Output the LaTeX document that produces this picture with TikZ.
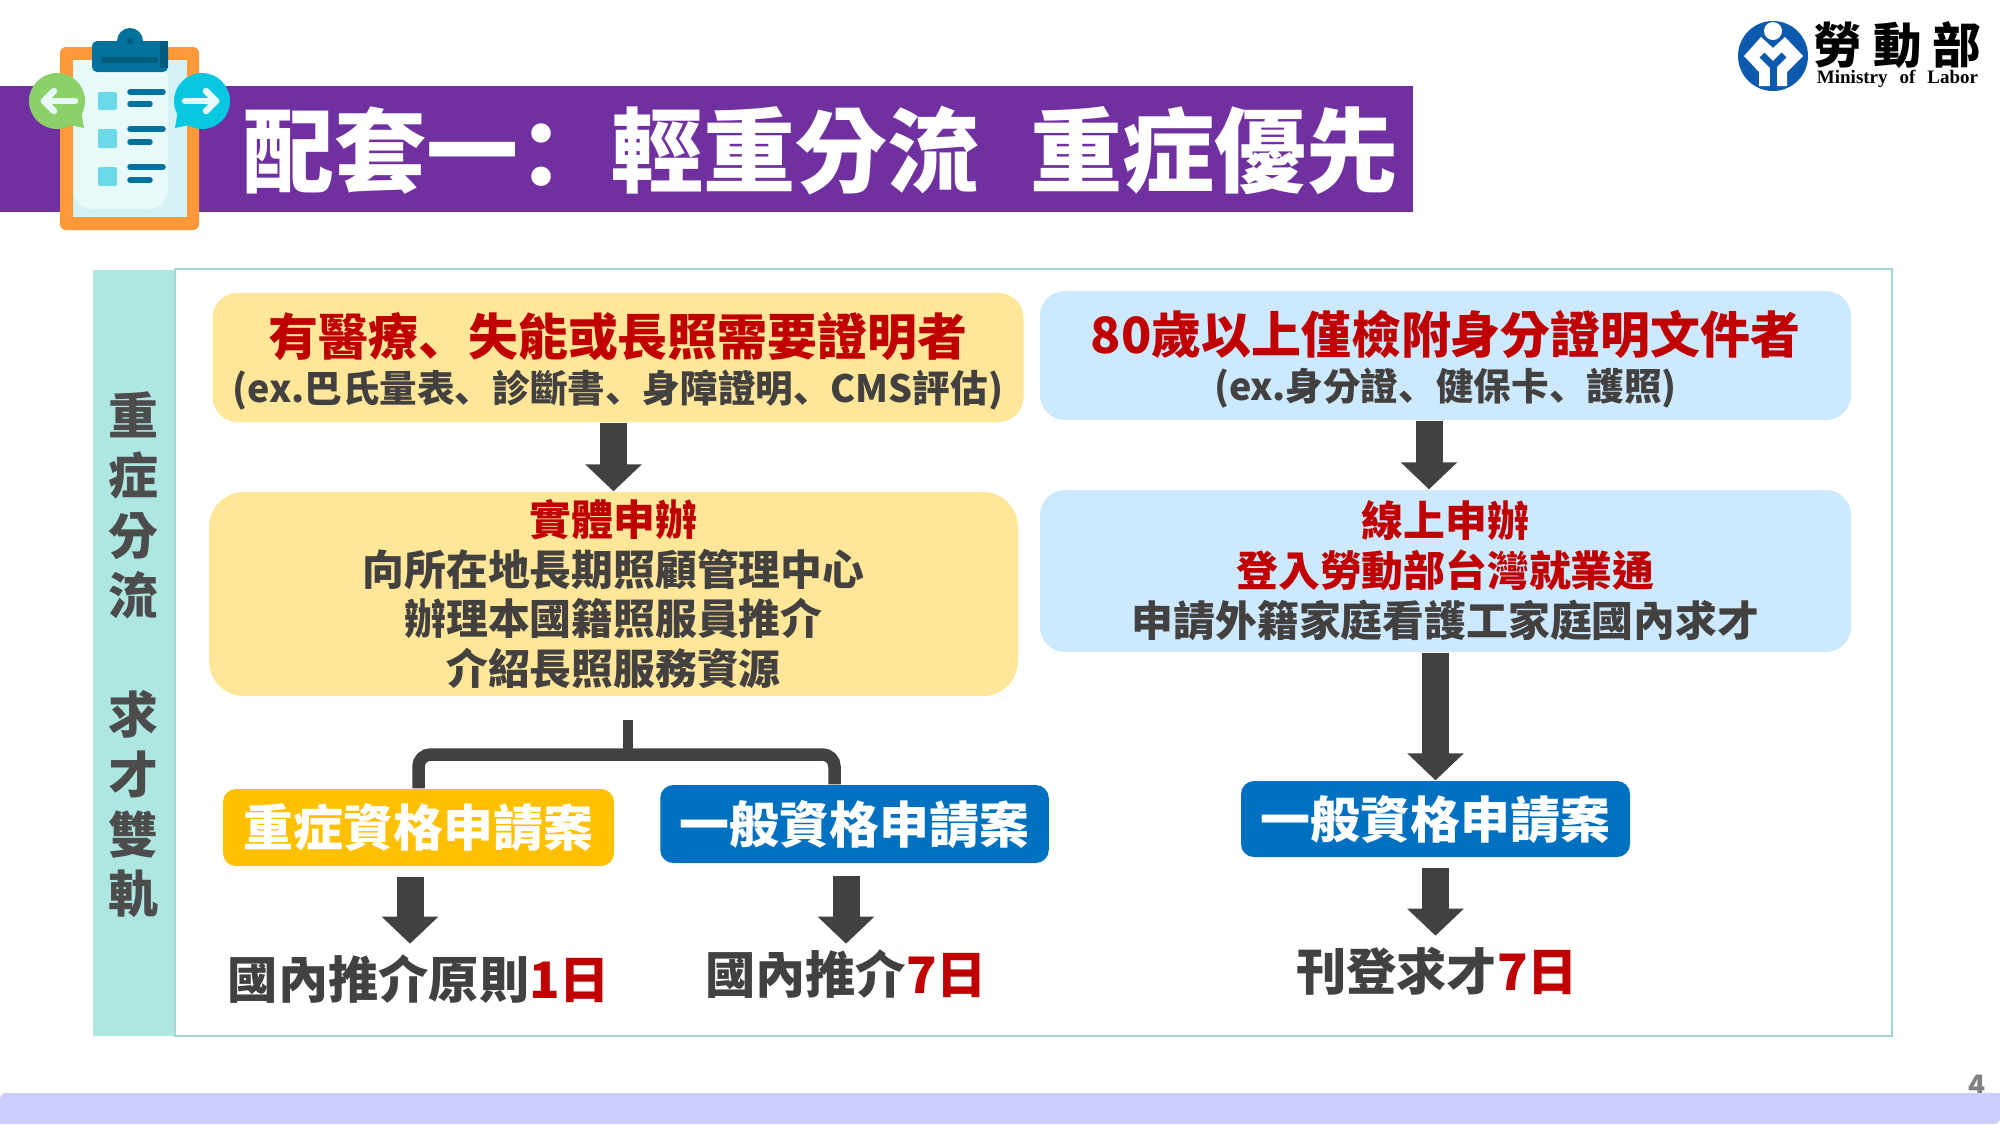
\documentclass[tikz,border=0pt]{standalone}
\usepackage{fontspec}
\usepackage{xcolor}
\usepackage{tikz}
\usetikzlibrary{positioning, arrows.meta}
\setmainfont{Noto Sans CJK TC}
\newfontfamily\logoserif{Liberation Serif}
\newfontfamily\punctfont{Noto Sans CJK SC}
\definecolor{banner}{HTML}{7030A0}
\definecolor{sideband}{HTML}{AEE6E2}
\definecolor{panelline}{HTML}{A5D5D5}
\definecolor{softyellow}{HTML}{FFE699}
\definecolor{softblue}{HTML}{CCE9FF}
\definecolor{gold}{HTML}{FFC000}
\definecolor{deepblue}{HTML}{0070C0}
\definecolor{alert}{HTML}{C00000}
\definecolor{inkgray}{HTML}{434040}
\definecolor{clipblue}{HTML}{01729B}
\definecolor{cliporange}{HTML}{FF9838}
\definecolor{papershade}{HTML}{D4F1F4}
\definecolor{paperlight}{HTML}{E8F9FA}
\definecolor{squarecyan}{HTML}{6BD9E8}
\definecolor{bubblegreen}{HTML}{8BD169}
\definecolor{bubblecyan}{HTML}{08C8E0}
\definecolor{footerbar}{HTML}{CCCCFF}
\definecolor{logoblue}{HTML}{0B5AAE}
\newcommand{\alerttxt}[1]{\textcolor{alert}{#1}}
\newcommand{\dun}{{\punctfont 、}}
\tikzset{
  softbox/.style={rounded corners=2.5mm, inner sep=0pt, align=center, text=inkgray, font=\bfseries\fontsize{11.9}{14.2}\selectfont},
  headbox/.style={softbox, font=\bfseries\fontsize{10.7}{15}\selectfont},
  casebox/.style={rounded corners=1.3mm, inner sep=0pt, text=white, font=\bfseries\fontsize{14.2}{17}\selectfont},
  daytext/.style={inner sep=0pt, text=inkgray, font=\bfseries\fontsize{14.3}{17}\selectfont},
  fatarrow/.style={draw=inkgray, line width=2.7mm, -{Triangle[length=2.7mm, width=5.5mm]}},
  bracketline/.style={draw=inkgray, line width=1.25mm, rounded corners=1.2mm},
  listline/.style={draw=clipblue, line width=0.55mm, line cap=round},
  bubblearrow/.style={draw=paperlight, line width=0.65mm, line cap=round, line join=round},
  listsquare/.style={fill=squarecyan, rounded corners=0.2mm}
}
\begin{document}
\begin{tikzpicture}
  \useasboundingbox (0,0) rectangle (20,-11.25);

  % footer and page number
  \node[inner sep=0pt, text=gray, font=\bfseries\fontsize{8}{9}\selectfont] (pagenum) at (19.77,-10.85) {4};
  \fill[footerbar] (0,-11.24) [rounded corners=0.6mm] -- (0,-10.93) [sharp corners] -- (20,-10.93) [rounded corners=0.6mm] -- (20,-11.24) [sharp corners] -- cycle;

  % title banner
  \fill[banner] (0,-0.86) rectangle (14.13,-2.12);
  \node[anchor=west, inner sep=0pt, text=white, font=\bfseries\fontsize{26.2}{30}\selectfont] (title) at (2.42,-1.5) {配套一{\punctfont ：}輕重分流\hspace{5.1mm}重症優先};

  % clipboard
  \fill[cliporange, rounded corners=0.6mm] (0.60,-0.47) rectangle (1.99,-2.30);
  \fill[papershade] (0.73,-0.60) rectangle (1.87,-2.17);
  \fill[paperlight, rounded corners=2mm] (0.73,-0.60) -- (1.68,-0.60) -- (1.68,-2.09) -- (0.73,-2.09) [sharp corners] -- cycle;
  \fill[clipblue] (1.30,-0.41) circle (0.13);
  \fill[clipblue, rounded corners=0.5mm] (0.92,-0.41) rectangle (1.68,-0.72);
  \fill[clipblue!80!black] (1.60,-0.41) rectangle (1.68,-0.68);
  \fill[clipblue!80!black] (1.30,-0.41) circle (0.03);
  \draw[clipblue!80!black, line width=0.55mm, line cap=round] (1.04,-0.60) -- (1.56,-0.60);
  \fill[listsquare] (0.98,-0.92) rectangle (1.17,-1.10);
  \fill[listsquare] (0.98,-1.29) rectangle (1.17,-1.48);
  \fill[listsquare] (0.98,-1.67) rectangle (1.17,-1.86);
  \draw[listline] (1.30,-0.92) -- (1.63,-0.92);
  \draw[listline] (1.30,-1.04) -- (1.50,-1.04);
  \draw[listline] (1.30,-1.29) -- (1.63,-1.29);
  \draw[listline] (1.30,-1.42) -- (1.50,-1.42);
  \draw[listline] (1.30,-1.67) -- (1.63,-1.67);
  \draw[listline] (1.30,-1.80) -- (1.50,-1.80);

  % speech bubbles
  \fill[bubblegreen] (0.57,-1.01) circle (0.28);
  \fill[bubblegreen] (0.70,-1.25) -- (0.84,-1.28) -- (0.81,-1.10) -- cycle;
  \draw[bubblearrow] (0.75,-1.01) -- (0.44,-1.01);
  \draw[bubblearrow] (0.54,-0.91) -- (0.44,-1.01) -- (0.54,-1.11);
  \fill[bubblecyan] (2.02,-1.01) circle (0.28);
  \fill[bubblecyan] (1.89,-1.25) -- (1.75,-1.28) -- (1.78,-1.10) -- cycle;
  \draw[bubblearrow] (1.85,-1.01) -- (2.16,-1.01);
  \draw[bubblearrow] (2.06,-0.91) -- (2.16,-1.01) -- (2.06,-1.11);

  % logo
  \fill[logoblue] (17.73,-0.56) circle (0.35);
  \fill[white] (17.73,-0.31) circle (0.09);
  \fill[white] (17.44,-0.56) -- (17.61,-0.37) -- (17.73,-0.48) -- (17.85,-0.37) -- (18.03,-0.56) -- (17.87,-0.72) -- (17.87,-0.86) -- (17.59,-0.86) -- (17.59,-0.72) -- cycle;
  \draw[logoblue, line width=0.7mm] (17.62,-0.55) -- (17.73,-0.66) -- (17.84,-0.55);
  \draw[logoblue, line width=0.7mm] (17.73,-0.66) -- (17.73,-0.88);
  \node[inner sep=0pt, font=\bfseries\fontsize{13.8}{15}\selectfont] (logocn) at (18.975,-0.45) {勞\hspace{1.1mm}動\hspace{1.1mm}部};
  \node[inner sep=0pt, font=\logoserif\bfseries\fontsize{5.4}{6}\selectfont] (logoen) at (18.975,-0.79) {Ministry\hspace{1.2mm}of\hspace{1.2mm}Labor};

  % panel
  \fill[sideband] (0.93,-2.70) rectangle (1.75,-10.36);
  \draw[panelline, line width=0.2mm] (1.75,-2.69) rectangle (18.92,-10.36);
  \node[inner sep=0pt, align=center, text=black!70, font=\bfseries\fontsize{14.2}{17}\selectfont] (sidetext) at (1.33,-6.55) {重\\症\\分\\流\\ \\求\\才\\雙\\軌};

  % left column
  \node[headbox, fill=softyellow, minimum width=8.11cm, minimum height=1.29cm] (yellowa) at (6.18,-3.575)
    {\rule{0pt}{14.5pt}\fontsize{14.2}{15}\selectfont\alerttxt{有醫療\dun 失能或長照需要證明者}\\[-1.8pt](ex.巴氏量表\dun 診斷書\dun 身障證明\dun CMS評估)};
  \node[softbox, fill=softyellow, rounded corners=3.5mm, minimum width=8.09cm, minimum height=2.04cm] (yellowb) at (6.135,-5.94)
    {\alerttxt{實體申辦}\\向所在地長期照顧管理中心\\辦理本國籍照服員推介\\介紹長照服務資源};
  \node[casebox, fill=gold, minimum width=3.91cm, minimum height=0.77cm] (goldcase) at (4.185,-8.275) {重症資格申請案};
  \node[casebox, fill=deepblue, minimum width=3.885cm, minimum height=0.78cm] (bluecase) at (8.545,-8.24) {一般資格申請案};
  \node[daytext] (dayone) at (4.19,-9.79) {國內推介原則\alerttxt{1日}};
  \node[daytext] (dayseven) at (8.46,-9.745) {國內推介\alerttxt{7日}};

  % right column
  \node[headbox, fill=softblue, minimum width=8.11cm, minimum height=1.29cm] (bluea) at (14.455,-3.555)
    {\rule{0pt}{14.5pt}\fontsize{14.2}{15}\selectfont\alerttxt{80歲以上僅檢附身分證明文件者}\\[-1.8pt](ex.身分證\dun 健保卡\dun 護照)};
  \node[softbox, fill=softblue, minimum width=8.11cm, minimum height=1.62cm] (blueb) at (14.455,-5.71)
    {\alerttxt{線上申辦}\\\alerttxt{登入勞動部台灣就業通}\\申請外籍家庭看護工家庭國內求才};
  \node[casebox, fill=deepblue, minimum width=3.89cm, minimum height=0.76cm] (onlinecase) at (14.355,-8.19) {一般資格申請案};
  \node[daytext] (postdays) at (14.37,-9.715) {刊登求才\alerttxt{7日}};

  % arrows
  \draw[fatarrow] (yellowb.north |- yellowa.south) -- (yellowb.north);
  \draw[fatarrow] ([xshift=-0.165cm]bluea.south) -- ([xshift=-0.165cm]blueb.north);
  \draw[fatarrow] (onlinecase.north |- blueb.south) -- (onlinecase.north);
  \draw[fatarrow] ([xshift=-0.085cm]goldcase.south) ++(0,-0.10) -- ++(0,-0.67);
  \draw[fatarrow] ([xshift=-0.085cm]bluecase.south) ++(0,-0.12) -- ++(0,-0.68);
  \draw[fatarrow] (onlinecase.south) ++(0,-0.10) -- ++(0,-0.68);

  % bracket
  \coordinate (stemtop) at (6.28,-7.20);
  \coordinate (stemfoot) at (6.28,-7.545);
  \draw[inkgray, line width=1mm] (stemtop) -- (stemfoot);
  \draw[bracketline] (goldcase.north) |- (stemfoot) -| ([xshift=-0.20cm]bluecase.north);
\end{tikzpicture}
\end{document}
